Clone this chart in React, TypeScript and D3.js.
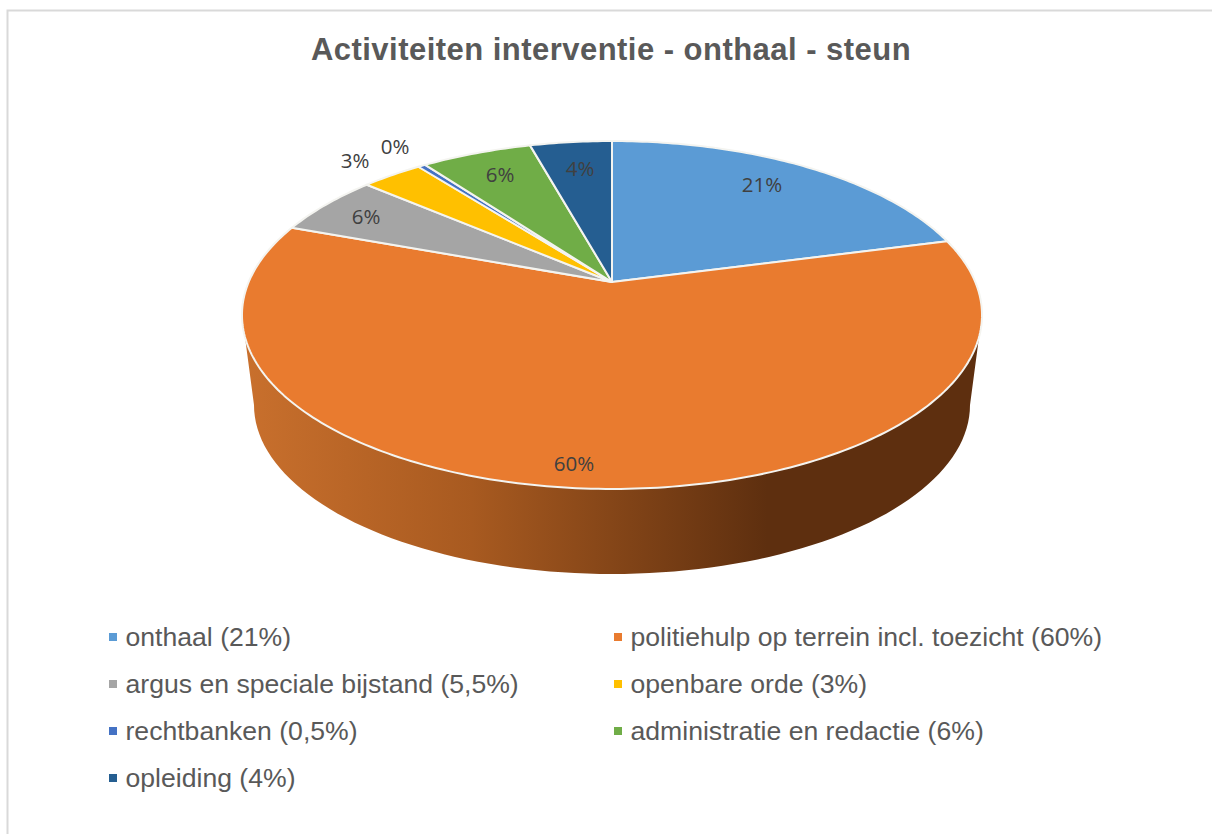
import React from 'react'
import * as d3 from 'd3'

const categories = [
	'onthaal (21%)',
	'politiehulp op terrein incl. toezicht (60%)',
	'argus en speciale bijstand (5,5%)',
	'openbare orde (3%)',
	'rechtbanken (0,5%)',
	'administratie en redactie (6%)',
	'opleiding (4%)',
]
// legend text is rounded
const shares = [20.9, 59.7, 5.7, 3.2, 0.4, 5.8, 4.3]
const sliceLabels = ['21%', '60%', '6%', '3%', '0%', '6%', '4%']
const colors = ['#5b9bd5', '#e97b2f', '#a5a5a5', '#ffc000', '#4472c4', '#70ad47', '#255e91']

// label spots relative to the apex, excel's "best fit" doesn't follow a rule
const labelOffsets = [
	[150, -97],
	[-38, 182],
	[-246, -65],
	[-257, -121],
	[-217, -135],
	[-112, -107],
	[-32, -113],
]

const width = 1212
const height = 834
const apexX = 612
const apexY = 282

// tilted disc: circle seen in perspective, so the apex sits above the ellipse middle
const persp = 0.1897
const scaleU = 363.3
const scaleV = 167.7

const project = (angle: number) => {
	const X = Math.sin(angle)
	const Y = -Math.cos(angle)
	const w = 1 - persp * Y
	return [apexX + (scaleU * X) / w, apexY + (scaleV * Y) / w] as [number, number]
}

const line = d3.line()

const sliceArc = (a0: number, a1: number) => {
	const steps = Math.max(2, Math.ceil((a1 - a0) * 60))
	const rim = d3.range(steps + 1).map((i) => project(a0 + ((a1 - a0) * i) / steps))
	return line([[apexX, apexY], ...rim]) + 'Z'
}

// wall under the front of the rim, bottom edge is a smaller ellipse further down
const wallPath = () => {
	const rimAngle = d3.scaleLinear([0, 90], [(108 * Math.PI) / 180, (252 * Math.PI) / 180])
	const floorAngle = d3.scaleLinear([0, 90], [0, Math.PI])
	const top = d3.range(91).map((i) => project(rimAngle(i)))
	const bottom = d3.range(91).map((i) => {
		const s = floorAngle(i)
		return [apexX - 358 * Math.cos(s), 405 + 169 * Math.sin(s)] as [number, number]
	})
	return line([...top, ...bottom]) + 'Z'
}

export default function App() {
	const pie = d3.pie<number>().sort(null).value((d) => d)(shares)
	const legendRows = d3.range(categories.length)
	const legendX = d3.scaleOrdinal<number, number>().domain([0, 1]).range([109, 614])
	const legendY = d3.scalePoint<number>().domain([0, 1, 2, 3]).range([637, 778])

	return (
		<svg
			width={width}
			height={height}
			style={{ position: 'absolute', left: 0, top: 0, background: '#fff' }}
		>
			<defs>
				<linearGradient id="wall" gradientUnits="userSpaceOnUse" x1={242} x2={982} y1={0} y2={0}>
					<stop offset="0" stopColor="#c9702d" />
					<stop offset="0.31" stopColor="#a85a20" />
					<stop offset="0.71" stopColor="#5e2f0f" />
					<stop offset="1" stopColor="#5e2f0f" />
				</linearGradient>
			</defs>
			<path d={`M7.5,834V10.5H${width}`} fill="none" stroke="#d9d9d9" strokeWidth={2} />
			<text
				x={611}
				y={60}
				textAnchor="middle"
				fontFamily="Liberation Sans"
				fontWeight="bold"
				fontSize={31}
				letterSpacing={0.47}
				fill="#595959"
			>
				Activiteiten interventie - onthaal - steun
			</text>
			<path d={wallPath()} fill="url(#wall)" />
			{pie.map((d, i) => (
				<path
					key={i}
					d={sliceArc(d.startAngle, d.endAngle)}
					fill={colors[i]}
					stroke="#f4f4f0"
					strokeWidth={2}
					strokeLinejoin="round"
				/>
			))}
			{sliceLabels.map((s, i) => (
				<text
					key={i}
					x={apexX + labelOffsets[i][0]}
					y={apexY + labelOffsets[i][1]}
					dy="0.35em"
					textAnchor="middle"
					fontFamily="Open Sans"
					fontSize={20.5}
					fill="#404040"
				>
					{s}
				</text>
			))}
			{legendRows.map((i) => {
				const x = legendX(i % 2)
				const y = legendY(Math.floor(i / 2)) as number
				return (
					<g key={i}>
						<rect x={x} y={y - 4} width={8} height={8} fill={colors[i]} />
						<text
							x={x + 16.5}
							y={y}
							dy="0.35em"
							fontFamily="Liberation Sans"
							fontSize={26.6}
							fill="#595959"
						>
							{categories[i]}
						</text>
					</g>
				)
			})}
		</svg>
	)
}
